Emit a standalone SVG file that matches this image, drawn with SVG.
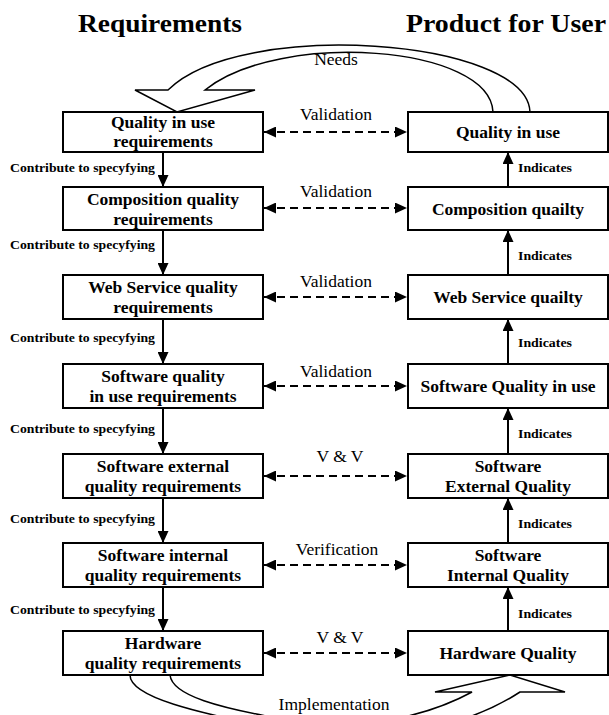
<svg xmlns="http://www.w3.org/2000/svg" width="609" height="715" viewBox="0 0 609 715">
<defs>
<style>
.box{fill:#fff;stroke:#000;stroke-width:2}
.t{font-family:"Liberation Serif","Times New Roman",serif;font-weight:bold;font-size:17.5px;text-anchor:middle;fill:#000}
.lbl{font-family:"Liberation Serif","Times New Roman",serif;font-size:17.5px;text-anchor:middle;fill:#000}
.sm{font-family:"Liberation Serif","Times New Roman",serif;font-weight:bold;font-size:12.5px;fill:#000}
.title{font-family:"Liberation Serif","Times New Roman",serif;font-weight:bold;font-size:26px;text-anchor:middle;fill:#000}
.solid{stroke:#000;stroke-width:2;fill:none}
.dash{stroke:#000;stroke-width:2;stroke-dasharray:8 5;fill:none}
.big{fill:#fff;stroke:#000;stroke-width:1.5;stroke-linejoin:miter}
</style>
<marker id="ah" markerUnits="userSpaceOnUse" markerWidth="12" markerHeight="11" refX="12" refY="5.5" orient="auto-start-reverse">
<path d="M0,0 L12,5.5 L0,11 z" fill="#000"/>
</marker>
</defs>
<rect width="609" height="715" fill="#fff"/>
<g id="titles">
<text class="title" x="160" y="32" textLength="164" lengthAdjust="spacingAndGlyphs">Requirements</text>
<text class="title" x="506" y="32" textLength="200" lengthAdjust="spacingAndGlyphs">Product for User</text>
</g>
<g id="connectors">
<path id="needs" class="big" d="M530 112 C527 38 240 18 168 90 L135 90 L177 112 L255 90 L205 90 C280 30 490 45 493 112"/>
<text class="lbl" x="336" y="65">Needs</text>
<path id="implementation" class="big" d="M130 675 C130 695 180 712 330 738 C420 738 480 718 520 692 L565 692 L510 675 L435 692 L472 692 C430 715 360 732 300 722 C215 708 172 695 170 675"/>
<text class="lbl" x="334" y="710">Implementation</text>
<line class="solid" x1="163" y1="152" x2="163" y2="187" marker-end="url(#ah)"/>
<line class="solid" x1="163" y1="230" x2="163" y2="275" marker-end="url(#ah)"/>
<line class="solid" x1="163" y1="319" x2="163" y2="364" marker-end="url(#ah)"/>
<line class="solid" x1="163" y1="408" x2="163" y2="454" marker-end="url(#ah)"/>
<line class="solid" x1="163" y1="498" x2="163" y2="543" marker-end="url(#ah)"/>
<line class="solid" x1="163" y1="587" x2="163" y2="631" marker-end="url(#ah)"/>
<text class="sm" x="10" y="172" textLength="145" lengthAdjust="spacingAndGlyphs">Contribute to specyfying</text>
<text class="sm" x="10" y="249" textLength="145" lengthAdjust="spacingAndGlyphs">Contribute to specyfying</text>
<text class="sm" x="10" y="342" textLength="145" lengthAdjust="spacingAndGlyphs">Contribute to specyfying</text>
<text class="sm" x="10" y="433" textLength="145" lengthAdjust="spacingAndGlyphs">Contribute to specyfying</text>
<text class="sm" x="10" y="523" textLength="145" lengthAdjust="spacingAndGlyphs">Contribute to specyfying</text>
<text class="sm" x="10" y="614" textLength="145" lengthAdjust="spacingAndGlyphs">Contribute to specyfying</text>
<line class="solid" x1="508" y1="187" x2="508" y2="152" marker-end="url(#ah)"/>
<line class="solid" x1="508" y1="275" x2="508" y2="230" marker-end="url(#ah)"/>
<line class="solid" x1="508" y1="364" x2="508" y2="319" marker-end="url(#ah)"/>
<line class="solid" x1="508" y1="454" x2="508" y2="408" marker-end="url(#ah)"/>
<line class="solid" x1="508" y1="543" x2="508" y2="498" marker-end="url(#ah)"/>
<line class="solid" x1="508" y1="631" x2="508" y2="587" marker-end="url(#ah)"/>
<text class="sm" x="518" y="172" textLength="54" lengthAdjust="spacingAndGlyphs">Indicates</text>
<text class="sm" x="518" y="260" textLength="54" lengthAdjust="spacingAndGlyphs">Indicates</text>
<text class="sm" x="518" y="347" textLength="54" lengthAdjust="spacingAndGlyphs">Indicates</text>
<text class="sm" x="518" y="438" textLength="54" lengthAdjust="spacingAndGlyphs">Indicates</text>
<text class="sm" x="518" y="528" textLength="54" lengthAdjust="spacingAndGlyphs">Indicates</text>
<text class="sm" x="518" y="618" textLength="54" lengthAdjust="spacingAndGlyphs">Indicates</text>
<line class="dash" x1="264" y1="132" x2="407" y2="132" marker-start="url(#ah)" marker-end="url(#ah)"/>
<line class="dash" x1="264" y1="208" x2="407" y2="208" marker-start="url(#ah)" marker-end="url(#ah)"/>
<line class="dash" x1="264" y1="297" x2="407" y2="297" marker-start="url(#ah)" marker-end="url(#ah)"/>
<line class="dash" x1="264" y1="386" x2="407" y2="386" marker-start="url(#ah)" marker-end="url(#ah)"/>
<line class="dash" x1="264" y1="476" x2="407" y2="476" marker-start="url(#ah)" marker-end="url(#ah)"/>
<line class="dash" x1="264" y1="565" x2="407" y2="565" marker-start="url(#ah)" marker-end="url(#ah)"/>
<line class="dash" x1="264" y1="653" x2="407" y2="653" marker-start="url(#ah)" marker-end="url(#ah)"/>
<text class="lbl" x="336" y="120">Validation</text>
<text class="lbl" x="336" y="197">Validation</text>
<text class="lbl" x="336" y="287">Validation</text>
<text class="lbl" x="336" y="377">Validation</text>
<text class="lbl" x="340" y="462">V &amp; V</text>
<text class="lbl" x="337" y="555">Verification</text>
<text class="lbl" x="340" y="643">V &amp; V</text>
</g>
<g id="req-quality-in-use"><rect class="box" x="63" y="112" width="200" height="40"/><text class="t" x="163" y="128">Quality in use</text><text class="t" x="163" y="147">requirements</text></g>
<g id="req-composition"><rect class="box" x="63" y="187" width="200" height="43"/><text class="t" x="163" y="204.5">Composition quality</text><text class="t" x="163" y="224.5">requirements</text></g>
<g id="req-web-service"><rect class="box" x="63" y="275" width="200" height="44"/><text class="t" x="163" y="293">Web Service quality</text><text class="t" x="163" y="313">requirements</text></g>
<g id="req-software-in-use"><rect class="box" x="63" y="364" width="200" height="44"/><text class="t" x="163" y="382">Software quality</text><text class="t" x="163" y="402">in use requirements</text></g>
<g id="req-software-external"><rect class="box" x="63" y="454" width="200" height="44"/><text class="t" x="163" y="472">Software external</text><text class="t" x="163" y="492">quality requirements</text></g>
<g id="req-software-internal"><rect class="box" x="63" y="543" width="200" height="44"/><text class="t" x="163" y="561">Software internal</text><text class="t" x="163" y="581">quality requirements</text></g>
<g id="req-hardware"><rect class="box" x="63" y="631" width="200" height="44"/><text class="t" x="163" y="649">Hardware</text><text class="t" x="163" y="669">quality requirements</text></g>
<g id="prod-quality-in-use"><rect class="box" x="408" y="112" width="200" height="40"/><text class="t" x="508" y="138">Quality in use</text></g>
<g id="prod-composition"><rect class="box" x="408" y="187" width="200" height="43"/><text class="t" x="508" y="214.5">Composition quailty</text></g>
<g id="prod-web-service"><rect class="box" x="408" y="275" width="200" height="44"/><text class="t" x="508" y="303">Web Service quailty</text></g>
<g id="prod-software-in-use"><rect class="box" x="408" y="364" width="200" height="44"/><text class="t" x="508" y="392">Software Quality in use</text></g>
<g id="prod-software-external"><rect class="box" x="408" y="454" width="200" height="44"/><text class="t" x="508" y="472">Software</text><text class="t" x="508" y="492">External Quality</text></g>
<g id="prod-software-internal"><rect class="box" x="408" y="543" width="200" height="44"/><text class="t" x="508" y="561">Software</text><text class="t" x="508" y="581">Internal Quality</text></g>
<g id="prod-hardware"><rect class="box" x="408" y="631" width="200" height="44"/><text class="t" x="508" y="659">Hardware Quality</text></g>
</svg>
